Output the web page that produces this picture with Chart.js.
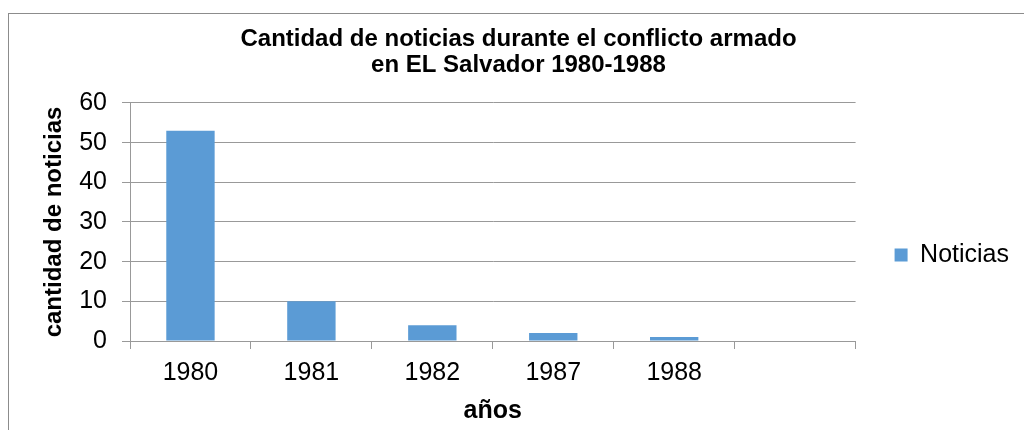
<!DOCTYPE html>
<html>
<head>
<meta charset="utf-8">
<script src="https://cdn.jsdelivr.net/npm/chart.js@4"></script>
<style>
  html, body { margin: 0; padding: 0; background: #fff; overflow: hidden; }
  #wrap { position: relative; width: 1024px; height: 430px; }
  #frame { position: absolute; left: 8px; top: 13px; width: 1100px; height: 500px; border: 1px solid #8c8c8c; }
  #chart { position: absolute; left: 0; top: 0; }
</style>
</head>
<body>
<div id="wrap">
  <div id="frame"></div>
  <canvas id="chart" width="1024" height="430"></canvas>
</div>
<script>
// datos
const years = ['1980', '1981', '1982', '1987', '1988', ''];
const noticias = [53, 10, 4, 2, 1, null];
const titleLines = ['Cantidad de noticias durante el conflicto armado', 'en EL Salvador 1980-1988'];
const yMin = 0, yMax = 60, yStep = 10;

Chart.defaults.font.family = "'Liberation Sans', Arial, sans-serif";
Chart.defaults.color = '#000';

const gridGray = '#999999';

new Chart(document.getElementById('chart'), {
    type: 'bar',
    data: {
        labels: years,
        datasets: [{
            label: 'Noticias',
            data: noticias,
            backgroundColor: '#5b9bd5',
            borderWidth: 0,
            categoryPercentage: 1,
            barPercentage: 0.4
        }]
    },
    options: {
        responsive: false,
        animation: false,
        layout: { padding: { left: 18, right: 5, top: 0, bottom: 0 } },
        plugins: {
            tooltip: { enabled: false },
            title: {
                display: true,
                text: titleLines,
                color: '#000',
                font: { size: 24, weight: 'bold', lineHeight: 1.083 },
                padding: { top: 26, bottom: 25 }
            },
            legend: {
                position: 'right',
                title: { display: true, text: ' ', font: { size: 10, lineHeight: 1 }, padding: { top: 70, bottom: 0 } },
                labels: {
                    boxWidth: 13,
                    boxHeight: 13,
                    padding: 39,
                    color: '#000',
                    font: { size: 25 }
                }
            }
        },
        scales: {
            x: {
                offset: true,
                grid: { offset: true, drawOnChartArea: false, drawTicks: true, tickLength: 8, color: gridGray },
                border: { display: true, color: gridGray },
                ticks: { font: { size: 25 }, color: '#000', padding: 9, maxRotation: 0 },
                title: { display: true, text: 'años', color: '#000', font: { size: 25, weight: 'bold' }, padding: { top: 0, bottom: 4 } },
                afterFit: function (scale) { scale.height = 89; }
            },
            y: {
                min: yMin,
                max: yMax,
                grid: { color: gridGray, tickLength: 8 },
                border: { display: true, color: gridGray },
                ticks: { stepSize: yStep, font: { size: 25 }, color: '#000', padding: 15 },
                title: { display: true, text: 'cantidad de noticias', color: '#000', font: { size: 24, weight: 'bold' }, padding: { top: 22, bottom: 0 } },
                afterFit: function (scale) { scale.width = 112; }
            }
        }
    }
});
</script>
</body>
</html>
